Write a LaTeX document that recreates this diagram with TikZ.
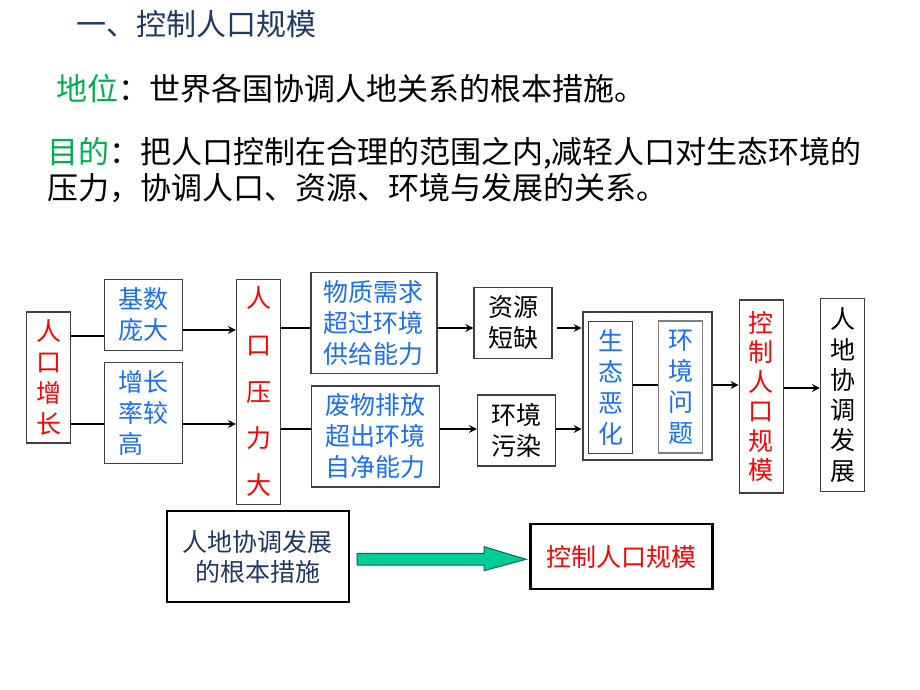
\documentclass[tikz,border=0pt]{standalone}
\usepackage{fontspec}
\setmainfont{Noto Sans CJK SC}
\usepackage{xcolor}
\usepackage{tikz}
\usetikzlibrary{arrows, positioning}

\definecolor{navy}{RGB}{31,56,100}
\definecolor{keygreen}{RGB}{0,176,80}
\definecolor{txtblue}{RGB}{25,110,250}
\definecolor{boxgray}{RGB}{64,64,64}
\definecolor{fatgreen}{RGB}{0,204,153}
\definecolor{fatedge}{RGB}{0,110,80}

\begin{document}
\begin{tikzpicture}[x=1pt, y=-1pt,
  box/.style={rectangle, draw=boxgray, line width=1.5pt, inner sep=0pt, align=center, font=\fontsize{25}{31}\selectfont},
  vbox/.style={box, minimum width=44pt},
  wbox/.style={box, minimum width=78pt, minimum height=71pt},
  bluetxt/.style={text=txtblue},
  redtxt/.style={text=red},
  mainbox/.style={rectangle, draw=black, line width=2.5pt, inner sep=0pt, align=center, font=\fontsize{25}{30}\selectfont},
  line/.style={line width=2.5pt},
  arrow/.style={line, ->, >=stealth},
  fatarrow/.style={fill=fatgreen, draw=fatedge, line width=1pt}]
\useasboundingbox (0,0) rectangle (920,690);

% heading and text
\node[anchor=base west, inner sep=0pt, text=navy, font=\fontsize{30}{36}\selectfont] (title) at (76,35.4) {一、控制人口规模};
\node[anchor=base west, inner sep=0pt, font=\fontsize{31}{36}\selectfont] (status) at (56,100.8) {\textcolor{keygreen}{地位}：世界各国协调人地关系的根本措施。};
\node[anchor=base west, inner sep=0pt, font=\fontsize{31}{36}\selectfont] (aim) at (47,163.8) {\textcolor{keygreen}{目的}：把人口控制在合理的范围之内,减轻人口对生态环境的};
\node[anchor=base west, inner sep=0pt, font=\fontsize{31}{36}\selectfont] (aim2) at (47,199.8) {压力，协调人口、资源、环境与发展的关系。};

% first column
\node[vbox, redtxt, minimum height=131pt] (rkzz) at (48.7,377.3) {人\\口\\增\\长};
\node[wbox, bluetxt] (jishu) at (143.5,314.8) {基数\\庞大};
\node[wbox, bluetxt, minimum height=101pt, align=left] (zzl) at (143.5,412.8) {增长\\率较\\高};
\node[vbox, redtxt, minimum height=225pt, font=\fontsize{25}{46.7}\selectfont] (rkyl) at (258.7,391.8) {人\\口\\压\\力\\大};

% pressure
\node[box, bluetxt, minimum width=126pt, minimum height=101pt] (wzxq) at (373.8,322.8) {物质需求\\超过环境\\供给能力};
\node[box, bluetxt, minimum width=128pt, minimum height=101pt] (fwpf) at (375.5,436.5) {废物排放\\超出环境\\自净能力};
\node[wbox] (zydq) at (513.2,323) {资源\\短缺};
\node[wbox] (hjwr) at (516.7,430.3) {环境\\污染};

% problems
\node[box, line width=2pt, minimum width=129pt, minimum height=148.6pt] (outer) at (647.2,386) {};
\node[vbox, bluetxt, minimum height=132pt] (stex) at (610.5,387.3) {生\\态\\恶\\化};
\node[vbox, bluetxt, draw=gray, minimum height=132pt] (hjwt) at (680.5,386.8) {环\\境\\问\\题};
\node[vbox, redtxt, minimum height=193pt, font=\fontsize{25}{29.5}\selectfont] (kzrk) at (761.3,396.7) {控\\制\\人\\口\\规\\模};
\node[vbox, minimum height=193pt, font=\fontsize{25}{30.3}\selectfont] (rdxt) at (842.7,395) {人\\地\\协\\调\\发\\展};

% bottom
\node[mainbox, text=navy, minimum width=182pt, minimum height=91pt] (gbcs) at (257.8,556.7) {人地协调发展\\的根本措施};
\node[mainbox, text=red, minimum width=182pt, minimum height=65pt] (kzbox) at (621.3,556.7) {控制人口规模};

% rows for the connectors
\coordinate (ra) at (0,336);
\coordinate (rb) at (0,330);
\coordinate (rc) at (0,328);
\coordinate (rd) at (0,424);
\coordinate (re) at (0,429);
\coordinate (rf) at (0,385);
\coordinate (rg) at (0,388);

\draw[line] (rkzz.east |- ra) -- (jishu.west |- ra);
\draw[line] (rkzz.east |- rd) -- (zzl.west |- rd);
\draw[arrow] (jishu.east |- rb) -- (rkyl.west |- rb);
\draw[arrow] (zzl.east |- rd) -- (rkyl.west |- rd);
\draw[line] (rkyl.east |- rc) -- (wzxq.west |- rc);
\draw[line] (rkyl.east |- re) -- (fwpf.west |- re);
\draw[arrow] (wzxq.east |- rc) -- (zydq.west |- rc);
\draw[arrow] (fwpf.east |- re) -- (hjwr.west |- re);
\draw[arrow] ([xshift=4pt]zydq.east |- rc) -- (outer.west |- rc);
\draw[arrow] (hjwr.east |- re) -- (outer.west |- re);
\draw[line] (stex.east |- rf) -- (hjwt.west |- rf);
\draw[arrow] (outer.east |- rf) -- (kzrk.west |- rf);
\draw[arrow] (kzrk.east |- rg) -- (rdxt.west |- rg);

\draw[fatarrow] ([xshift=7pt,yshift=3.4pt]gbcs.east) -- ++(127,0) -- ++(0,-6.6) -- ++(42,12.6) -- ++(-42,11.4) -- ++(0,-5.7) -- ++(-127,0) -- cycle;
\end{tikzpicture}
\end{document}
